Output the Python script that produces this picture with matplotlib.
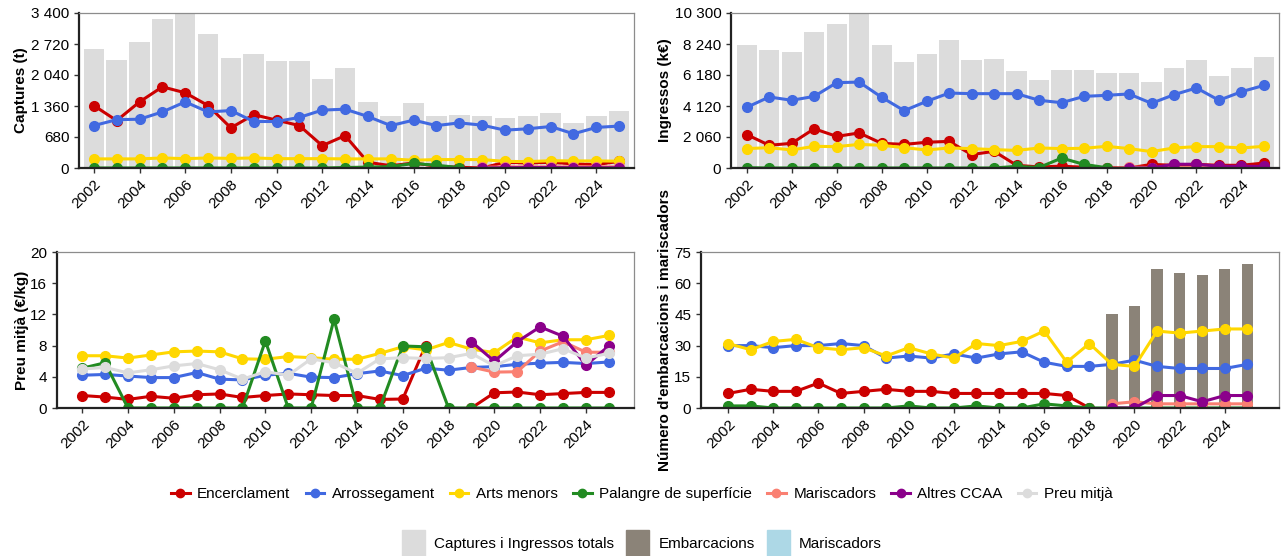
import numpy as np
import matplotlib
matplotlib.use("Agg")
import matplotlib.pyplot as plt
from matplotlib.lines import Line2D
from matplotlib.patches import Patch
from matplotlib.ticker import FuncFormatter

plt.rcParams['font.family'] = ['Liberation Sans', 'DejaVu Sans']
plt.rcParams['font.size'] = 11

nan = np.nan
years = np.arange(2002, 2026)

# Captures (t)
capt_total = [2620, 2380, 2760, 3260, 3410, 2950, 2410, 2500, 2340, 2340, 1950, 2190,
              1440, 1150, 1420, 1150, 1170, 1130, 1100, 1130, 1210, 990, 1130, 1240]
capt_encer = [1370, 1040, 1450, 1780, 1650, 1370, 880, 1170, 1050, 930, 490, 710,
              125, 50, 110, 40, 15, 0, 125, 110, 125, 90, 75, 145]
capt_arros = [930, 1060, 1070, 1230, 1450, 1230, 1260, 1020, 1020, 1110, 1270, 1290,
              1130, 930, 1050, 930, 990, 940, 830, 860, 910, 750, 890, 920]
capt_arts = [200, 200, 200, 220, 205, 220, 210, 220, 205, 205, 205, 200,
             200, 200, 170, 185, 185, 185, 145, 140, 160, 155, 155, 150]
capt_palan = [0, 0, 0, 0, 0, 0, 0, 0, 0, 0, 0, 10,
              20, 30, 100, 60, 10, nan, nan, nan, nan, nan, nan, nan]
capt_maris = [nan] * 17 + [15, 25, 25, 25, 25, 25, 25]
capt_altres = [nan] * 17 + [0, 5, 10, 10, 5, 5, 5]

# Ingressos (k€)
ingr_total = [8200, 7860, 7690, 9010, 9550, 10230, 8170, 7040, 7600, 8480, 7150, 7240,
              6420, 5870, 6490, 6490, 6340, 6290, 5690, 6670, 7150, 6140, 6670, 7400]
ingr_encer = [2220, 1510, 1640, 2610, 2100, 2330, 1640, 1570, 1710, 1770, 890, 1110,
              180, 70, 120, 50, 10, 0, 240, 180, 240, 180, 180, 330]
ingr_arros = [4030, 4720, 4500, 4760, 5670, 5710, 4700, 3810, 4430, 4980, 4940, 4940,
              4940, 4500, 4340, 4760, 4830, 4920, 4300, 4870, 5320, 4500, 5070, 5490]
ingr_arts = [1290, 1350, 1200, 1440, 1420, 1570, 1510, 1350, 1200, 1330, 1290, 1220,
             1170, 1330, 1290, 1310, 1440, 1290, 1090, 1330, 1420, 1420, 1330, 1440]
ingr_palan = [20, 0, 0, 0, 0, 0, 0, 0, 0, 0, 0, 0,
              110, 30, 660, 240, 20, nan, nan, nan, nan, nan, nan, nan]
ingr_maris = [nan] * 17 + [70, 20, 30, 30, 30, 30, 30]
ingr_altres = [nan] * 17 + [0, 0, 250, 250, 120, 110, 110]

# Preu mitjà (€/kg)
preu_encer = [1.6, 1.4, 1.1, 1.5, 1.25, 1.7, 1.8, 1.35, 1.6, 1.8, 1.7, 1.6,
              1.6, 1.1, 1.15, 8.0, nan, 0, 1.95, 2.05, 1.7, 1.85, 2.0, 2.0]
preu_arros = [4.2, 4.3, 4.1, 3.9, 3.9, 4.55, 3.7, 3.6, 4.2, 4.45, 3.95, 3.9,
              4.4, 4.75, 4.15, 5.1, 4.85, 5.2, 5.3, 5.6, 5.75, 5.85, 5.7, 5.9]
preu_arts = [6.7, 6.7, 6.4, 6.8, 7.2, 7.3, 7.2, 6.3, 6.25, 6.6, 6.45, 6.25,
             6.25, 7.0, 7.85, 7.45, 8.4, 7.55, 7.1, 9.1, 8.35, 8.75, 8.75, 9.3]
preu_palan = [5.1, 5.8, 0, 0, 0, 0, 0, 0, 8.6, 0, 0, 11.4,
              0, 0, 7.95, 7.85, 0, 0, 0, 0, 0, 0, 0, 0]
preu_maris = [nan] * 17 + [5.25, 4.6, 4.65, 7.3, 8.5, 7.15, 7.15]
preu_altres = [nan] * 17 + [8.5, 6.0, 8.5, 10.4, 9.2, 5.5, 7.95]
preu_mitja = [5.0, 5.2, 4.5, 4.9, 5.4, 5.7, 4.9, 3.7, 4.65, 4.2, 6.3, 5.8,
              4.45, 6.3, 6.45, 6.35, 6.45, 7.0, 5.4, 6.7, 6.9, 7.6, 6.4, 7.0]

# Número d'embarcacions i mariscadors
num_embarc = [nan] * 17 + [45, 49, 67, 65, 64, 67, 69]
num_encer = [7, 9, 8, 8, 12, 7, 8, 9, 8, 8, 7, 7,
             7, 7, 7, 6, 0, nan, nan, nan, nan, nan, nan, nan]
num_arros = [30, 30, 29, 30, 30, 31, 30, 24, 25, 24, 26, 24,
             26, 27, 22, 20, 20, 21, 23, 20, 19, 19, 19, 21]
num_arts = [31, 28, 32, 33, 29, 28, 29, 25, 29, 26, 24, 31,
            30, 32, 37, 22, 31, 21, 20, 37, 36, 37, 38, 38]
num_palan = [1, 1, 0, 0, 0, 0, 0, 0, 1, 0, 0, 1,
             0, 0, 2, 1, 0, 0, 0, 0, 0, 0, 0, 0]
num_maris = [nan] * 17 + [2, 3, 2, 2, 2, 2, 2]
num_altres = [nan] * 17 + [0, 0, 6, 6, 3, 6, 6]

names = ['Encerclament', 'Arrossegament', 'Arts menors', 'Palangre de superfície',
         'Mariscadors', 'Altres CCAA', 'Preu mitjà']
colors = ['#cc0000', '#4169e1', '#ffd700', '#228b22', '#fa8072', '#8b008b', '#dcdcdc']
bar_grey = '#dcdcdc'
bar_brown = '#8b8378'
bar_blue = '#add8e6'

W, H = 1284, 556
fig = plt.figure(figsize=(W / 100, H / 100), dpi=100)


def make_ax(l, r, t, b):
    return fig.add_axes([l / W, 1 - b / H, (r - l) / W, (b - t) / H])


def style(ax, ymax, step, xlim, ylabel, lab_x, lab_y):
    ax.set_xlim(*xlim)
    ax.set_ylim(0, ymax)
    ax.set_yticks(np.arange(0, ymax + 0.1, step))
    ax.yaxis.set_major_formatter(FuncFormatter(lambda v, p: f'{v:,.0f}'.replace(',', ' ')))
    ax.set_xticks(np.arange(2002, 2025, 2))
    for lab in ax.get_xticklabels():
        lab.set_rotation(45)
        lab.set_ha('right')
        lab.set_rotation_mode('anchor')
    ax.tick_params(axis='both', labelsize=11, length=3.5, width=1, color='#333333')
    ax.tick_params(axis='x', pad=3)
    for s in ['left', 'bottom']:
        ax.spines[s].set_color('#222222')
        ax.spines[s].set_linewidth(1.6)
    for s in ['top', 'right']:
        ax.spines[s].set_color('#8c8c8c')
        ax.spines[s].set_linewidth(0.9)
    ax.set_ylabel(ylabel, fontsize=11, fontweight='bold')
    ax.yaxis.set_label_coords(lab_x / W, 1 - lab_y / H, transform=fig.transFigure)
    ax.yaxis.label.set_va('bottom')


def lines(ax, series, idx):
    for s, i in zip(series, idx):
        ax.plot(years, s, color=colors[i], lw=2.2, marker='o', ms=7)


# top-left: captures
ax1 = make_ax(79, 634, 13, 168)
ax1.bar(years, capt_total, width=0.9, color=bar_grey, zorder=0)
lines(ax1, [capt_encer, capt_arros, capt_arts, capt_palan, capt_maris, capt_altres], range(6))
style(ax1, 3400, 680, (2001.35, 2025.65), 'Captures (t)', 28, 90)

# top-right: ingressos
ax2 = make_ax(731, 1279, 13, 168)
ax2.bar(years, ingr_total, width=0.9, color=bar_grey, zorder=0)
lines(ax2, [ingr_encer, ingr_arros, ingr_arts, ingr_palan, ingr_maris, ingr_altres], range(6))
style(ax2, 10300, 2060, (2001.3, 2025.67), 'Ingressos (k€)', 672, 90)

# bottom-left: preu
ax3 = make_ax(57, 634, 252, 408)
lines(ax3, [preu_encer, preu_arros, preu_arts, preu_palan, preu_maris, preu_altres, preu_mitja],
      range(7))
style(ax3, 20, 4, (2000.9, 2026.1), 'Preu mitjà (€/kg)', 29, 330)

# bottom-right: embarcacions
ax4 = make_ax(701, 1279, 252, 408)
ax4.bar(years, num_embarc, width=0.5, color=bar_brown, zorder=0)
lines(ax4, [num_encer, num_arros, num_arts, num_palan, num_maris, num_altres], range(6))
style(ax4, 75, 15, (2000.8, 2026.4), "Número d'embarcacions i mariscadors", 672, 330)

# legends
h1 = [Line2D([], [], color=c, lw=2.2, marker='o', ms=6) for c in colors]
fig.legend(h1, names, loc='center', bbox_to_anchor=(0.5, 1 - 494 / H), ncol=7,
           frameon=False, fontsize=11, handlelength=1.2, handletextpad=0.5,
           columnspacing=1.0)
h2 = [Patch(color=bar_grey), Patch(color=bar_brown), Patch(color=bar_blue)]
fig.legend(h2, ['Captures i Ingressos totals', 'Embarcacions', 'Mariscadors'],
           loc='center', bbox_to_anchor=(0.5, 1 - 543 / H), ncol=3, frameon=False,
           fontsize=11, handlelength=1.5, handleheight=2.2, handletextpad=0.6,
           columnspacing=0.8)

fig.savefig('out.png', dpi=100)
